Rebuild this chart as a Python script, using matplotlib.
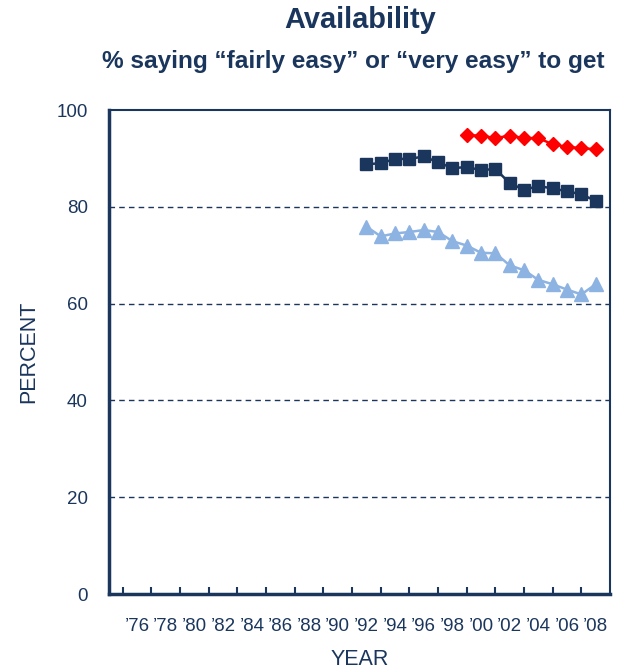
import matplotlib
matplotlib.use("Agg")
import matplotlib.pyplot as plt

plt.rcParams['font.family'] = ['Liberation Sans', 'DejaVu Sans']

NAVY = '#1b365d'

years_red = list(range(1999, 2009))
red_vals = [94.8, 94.7, 94.2, 94.7, 94.2, 94.2, 92.9, 92.4, 92.1, 91.9]

years_navy = list(range(1992, 2009))
navy_vals = [88.8, 89.0, 89.9, 89.9, 90.4, 89.2, 88.0, 88.2, 87.6, 87.8,
             84.9, 83.5, 84.3, 83.8, 83.2, 82.6, 81.2]

years_light = list(range(1992, 2009))
light_vals = [75.9, 73.9, 74.5, 74.8, 75.2, 74.8, 72.9, 72.0, 70.5, 70.4,
              67.9, 66.9, 64.9, 64.0, 62.9, 61.9, 64.0]

tick_years = list(range(1976, 2009, 2))
tick_labels = ["\u2019%02d" % (y % 100) for y in tick_years]
y_ticks = [0, 20, 40, 60, 80, 100]

fig = plt.figure(figsize=(6.19, 6.72), dpi=100)
ax = fig.add_axes([0.1753, 0.116, 0.8102, 0.7203])

for v in [20, 40, 60, 80]:
    ax.axhline(v, color=NAVY, lw=1.0, ls=(0, (4, 3)), zorder=1)

ax.plot(years_light, light_vals, color='#8db3e2', lw=1.8, marker='^',
        markersize=9.5, zorder=3)
ax.plot(years_navy, navy_vals, color=NAVY, lw=1.8, marker='s',
        markersize=9, zorder=3)
ax.plot(years_red, red_vals, color='#ff0000', lw=1.8, marker='D',
        markersize=7, zorder=4)

ax.set_xlim(1974, 2009)
ax.set_ylim(0, 100)
ax.set_yticks(y_ticks)
ax.set_yticklabels([str(v) for v in y_ticks], fontsize=13.5, color=NAVY)
ax.tick_params(axis='y', length=0, pad=15)

ax.set_xticks(range(1975, 2009), minor=True)
ax.set_xticks(tick_years)
ax.set_xticklabels(tick_labels, fontsize=13.5, color=NAVY)
ax.tick_params(axis='x', which='both', direction='in', length=5, width=1.5,
               color=NAVY, pad=17)
ax.tick_params(axis='x', which='major', length=0)
ax.set_xlabel('YEAR', fontsize=15.5, color=NAVY, labelpad=10)
ax.set_ylabel('PERCENT', fontsize=15.5, color=NAVY, labelpad=12)

for s in ['left', 'bottom']:
    ax.spines[s].set_color(NAVY)
    ax.spines[s].set_linewidth(2.5)
for s in ['top', 'right']:
    ax.spines[s].set_color(NAVY)
    ax.spines[s].set_linewidth(1.5)

fig.text(0.5824, 1 - 28 / 672, 'Availability', ha='center', va='baseline',
         fontsize=20.9, fontweight='bold', color=NAVY)
fig.text(0.571, 1 - 68 / 672,
         '% saying \u201cfairly easy\u201d or \u201cvery easy\u201d to get',
         ha='center', va='baseline', fontsize=17.6, fontweight='bold',
         color=NAVY)

fig.savefig('out.png', dpi=100)
